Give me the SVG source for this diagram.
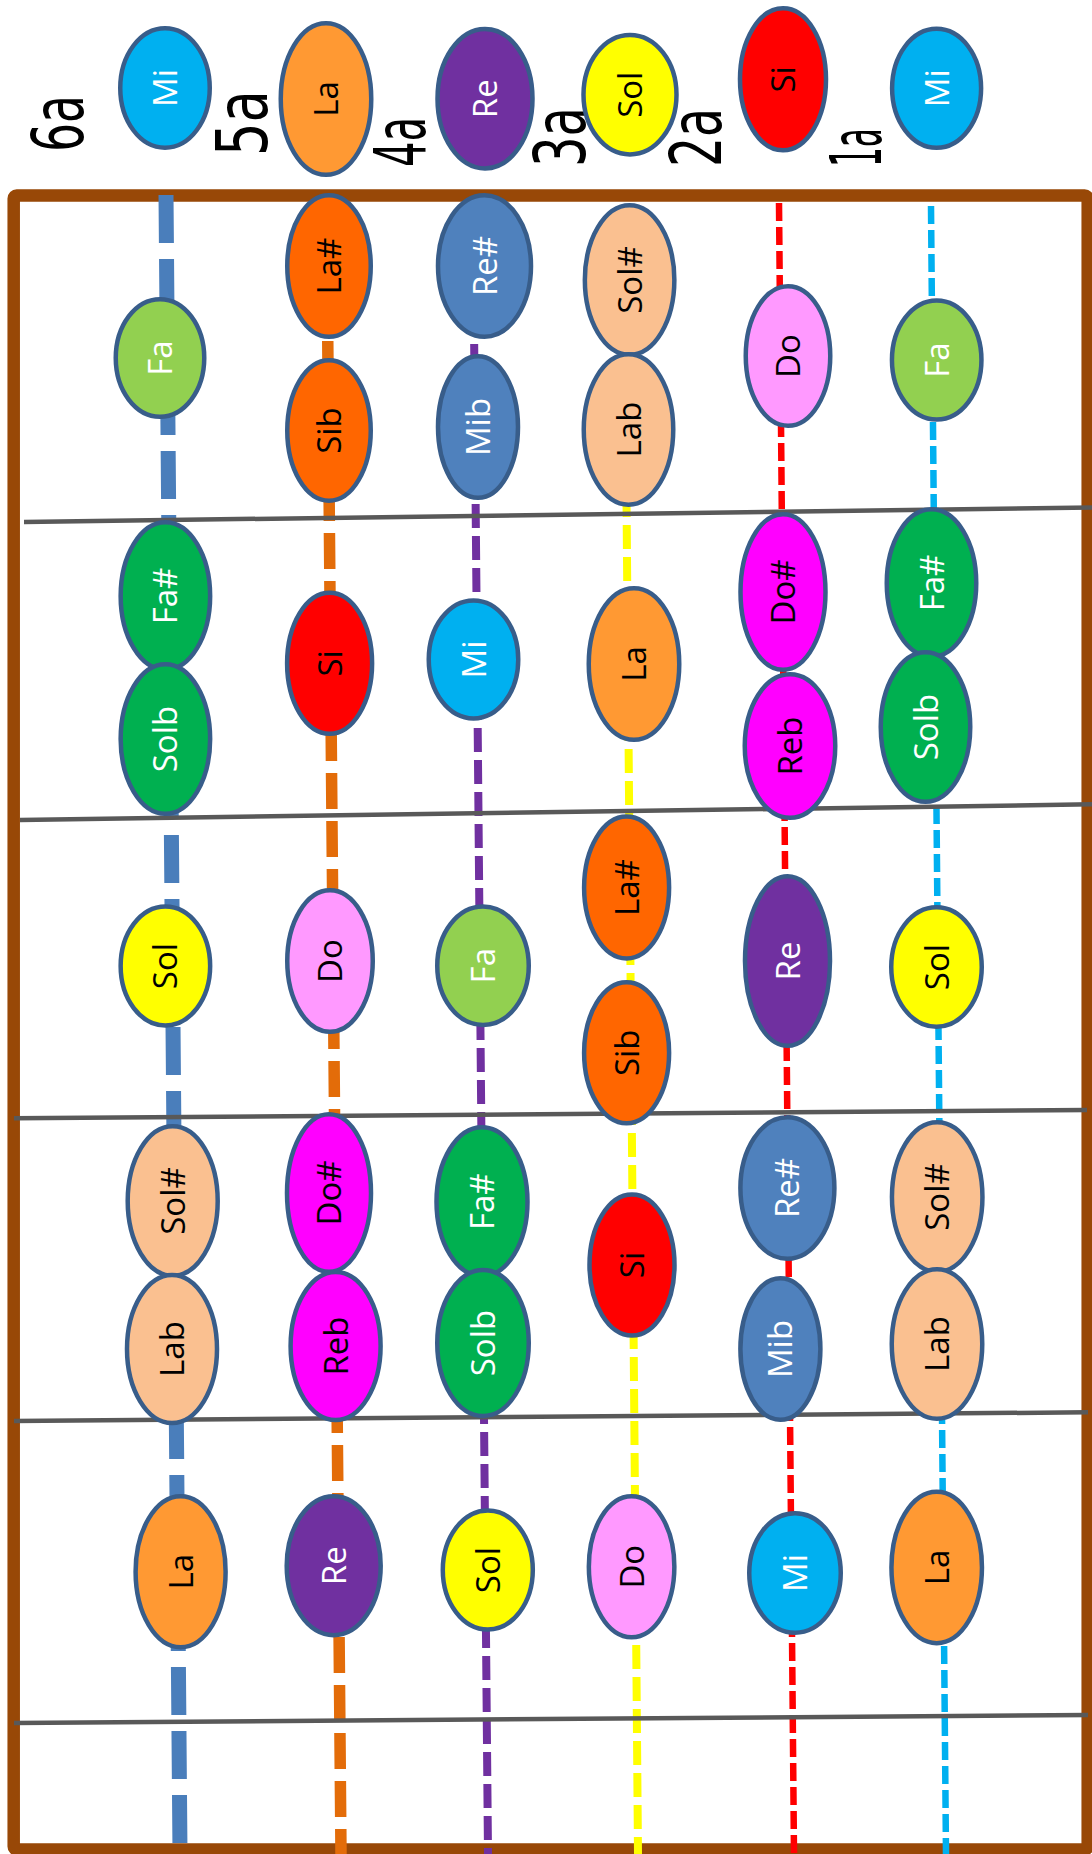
<svg xmlns="http://www.w3.org/2000/svg" width="1092" height="1854" viewBox="0 0 1092 1854">
<style>
.n ellipse{stroke:#385D8A;stroke-width:4.5}
.n text{font-family:'Open Sans','Noto Sans','DejaVu Sans',sans-serif;font-size:33px;text-anchor:middle;fill:#000}
.w text{fill:#fff}
.mi ellipse{fill:#00B0F0}
.la ellipse{fill:#FF9933}
.re ellipse{fill:#7030A0}
.sol ellipse{fill:#FFFF00}
.si ellipse{fill:#FF0000}
.fa ellipse{fill:#92D050}
.las ellipse{fill:#FF6600}
.res ellipse{fill:#4F81BD}
.sols ellipse{fill:#FAC090}
.do ellipse{fill:#FF99FF}
.dos ellipse{fill:#FF00FF}
.fas ellipse{fill:#00B050}
.lbl{font-family:'Liberation Sans Narrow','DejaVu Sans Condensed','Liberation Sans',sans-serif;font-size:72px;text-anchor:middle;fill:#000}
.fret{stroke:#595959;stroke-width:4.5;fill:none}
</style>
<rect width="1092" height="1854" fill="#fff"/>
<rect id="frame" x="13.7" y="195.5" width="1074" height="1654" rx="3" fill="none" stroke="#984807" stroke-width="12.5"/>
<g id="connectors">
<g id="strings" fill="none">
<line x1="166" y1="195" x2="180" y2="1854" stroke="#4A7EBB" stroke-width="15" stroke-dasharray="48 16"/>
<line x1="326.5" y1="197" x2="341" y2="1854" stroke="#E36C09" stroke-width="11.5" stroke-dasharray="36 12"/>
<line x1="473" y1="216" x2="488" y2="1854" stroke="#7030A0" stroke-width="8" stroke-dasharray="24 8"/>
<line x1="624" y1="205" x2="638" y2="1854" stroke="#FFFF00" stroke-width="8" stroke-dasharray="24 8"/>
<line x1="779" y1="203" x2="794" y2="1854" stroke="#FF0000" stroke-width="6.5" stroke-dasharray="18 6"/>
<line x1="931" y1="206" x2="946" y2="1854" stroke="#00B0F0" stroke-width="6.5" stroke-dasharray="18 6"/>
</g>
<g id="frets">
<line class="fret" x1="24" y1="522" x2="1092" y2="507.5"/>
<line class="fret" x1="20" y1="820" x2="1092" y2="804.3"/>
<line class="fret" x1="14" y1="1118.3" x2="1087" y2="1110"/>
<line class="fret" x1="14" y1="1421" x2="1088" y2="1412.3"/>
<line class="fret" x1="14" y1="1723" x2="1088" y2="1715"/>
</g>
</g>
<g id="labels">
<text class="lbl" transform="translate(83.3,123.5) rotate(-90)" textLength="57" lengthAdjust="spacingAndGlyphs">6a</text>
<text class="lbl" transform="translate(267,123) rotate(-90)" textLength="66" lengthAdjust="spacingAndGlyphs">5a</text>
<text class="lbl" transform="translate(425,142) rotate(-90)" textLength="50" lengthAdjust="spacingAndGlyphs">4a</text>
<text class="lbl" transform="translate(585,137) rotate(-90)" textLength="60" lengthAdjust="spacingAndGlyphs">3a</text>
<text class="lbl" transform="translate(721,137.5) rotate(-90)" textLength="59" lengthAdjust="spacingAndGlyphs">2a</text>
<text class="lbl" transform="translate(881,147.5) rotate(-90)" textLength="39" lengthAdjust="spacingAndGlyphs">1a</text>
</g>
<g id="open">
<g id="o6" class="n mi w"><ellipse cx="165" cy="88" rx="44.75" ry="59.75"/><text transform="translate(177,88) rotate(-90)">Mi</text></g>
<g id="o5" class="n la"><ellipse cx="326" cy="99" rx="45.25" ry="75.75"/><text transform="translate(338,99) rotate(-90)">La</text></g>
<g id="o4" class="n re w"><ellipse cx="485" cy="98.7" rx="47.5" ry="69.75"/><text transform="translate(497,98.7) rotate(-90)">Re</text></g>
<g id="o3" class="n sol"><ellipse cx="630" cy="94.7" rx="46.5" ry="59.75"/><text transform="translate(642,94.7) rotate(-90)">Sol</text></g>
<g id="o2" class="n si"><ellipse cx="783" cy="79.3" rx="43" ry="71"/><text transform="translate(795,79.3) rotate(-90)">Si</text></g>
<g id="o1" class="n mi w"><ellipse cx="936.6" cy="88.3" rx="44.5" ry="59.5"/><text transform="translate(948.6,88.3) rotate(-90)">Mi</text></g>
</g>
<g id="fret1notes">
<g id="f1s6" class="n fa w"><ellipse cx="160" cy="358" rx="44.25" ry="58.75"/><text transform="translate(172,358) rotate(-90)">Fa</text></g>
<g id="f1s5a" class="n las"><ellipse cx="329" cy="266" rx="41.75" ry="70.75"/><text transform="translate(341,266) rotate(-90)">La#</text></g>
<g id="f1s5b" class="n las"><ellipse cx="329" cy="430.5" rx="41.75" ry="70.25"/><text transform="translate(341,430.5) rotate(-90)">Sib</text></g>
<g id="f1s4a" class="n res w"><ellipse cx="484.5" cy="266" rx="46.5" ry="70.75"/><text transform="translate(496.5,266) rotate(-90)">Re#</text></g>
<g id="f1s4b" class="n res w"><ellipse cx="478" cy="427" rx="40" ry="70.75"/><text transform="translate(490,427) rotate(-90)">Mib</text></g>
<g id="f1s3a" class="n sols"><ellipse cx="629.6" cy="280" rx="44.75" ry="74.75"/><text transform="translate(641.6,280) rotate(-90)">Sol#</text></g>
<g id="f1s3b" class="n sols"><ellipse cx="628.5" cy="429.5" rx="44.75" ry="75.25"/><text transform="translate(640.5,429.5) rotate(-90)">Lab</text></g>
<g id="f1s2" class="n do"><ellipse cx="788" cy="356" rx="42.25" ry="69.75"/><text transform="translate(800,356) rotate(-90)">Do</text></g>
<g id="f1s1" class="n fa w"><ellipse cx="936.7" cy="360" rx="44.75" ry="59.5"/><text transform="translate(948.7,360) rotate(-90)">Fa</text></g>
</g>
<g id="fret2notes">
<g id="f2s6a" class="n fas w"><ellipse cx="165.4" cy="596" rx="44.75" ry="73.75"/><text transform="translate(177.4,596) rotate(-90)">Fa#</text></g>
<g id="f2s6b" class="n fas w"><ellipse cx="165.4" cy="739" rx="44.75" ry="74.75"/><text transform="translate(177.4,739) rotate(-90)">Solb</text></g>
<g id="f2s5" class="n si"><ellipse cx="329.6" cy="663.3" rx="42.5" ry="70.5"/><text transform="translate(341.6,663.3) rotate(-90)">Si</text></g>
<g id="f2s4" class="n mi w"><ellipse cx="473.5" cy="659.4" rx="44.75" ry="59"/><text transform="translate(485.5,659.4) rotate(-90)">Mi</text></g>
<g id="f2s3" class="n la"><ellipse cx="634" cy="664" rx="45.25" ry="75.75"/><text transform="translate(646,664) rotate(-90)">La</text></g>
<g id="f2s2a" class="n dos"><ellipse cx="783" cy="592" rx="42.5" ry="77.75"/><text transform="translate(795,592) rotate(-90)">Do#</text></g>
<g id="f2s2b" class="n dos"><ellipse cx="790" cy="746" rx="45.25" ry="71.75"/><text transform="translate(802,746) rotate(-90)">Reb</text></g>
<g id="f2s1a" class="n fas w"><ellipse cx="931.5" cy="583" rx="44.75" ry="73.75"/><text transform="translate(943.5,583) rotate(-90)">Fa#</text></g>
<g id="f2s1b" class="n fas w"><ellipse cx="925.5" cy="727" rx="44.75" ry="74.75"/><text transform="translate(937.5,727) rotate(-90)">Solb</text></g>
</g>
<g id="fret3notes">
<g id="f3s6" class="n sol"><ellipse cx="165.4" cy="966" rx="44.75" ry="59.5"/><text transform="translate(177.4,966) rotate(-90)">Sol</text></g>
<g id="f3s5" class="n do"><ellipse cx="330" cy="961" rx="42.75" ry="70.75"/><text transform="translate(342,961) rotate(-90)">Do</text></g>
<g id="f3s4" class="n fa w"><ellipse cx="483" cy="965.7" rx="45.75" ry="59.25"/><text transform="translate(495,965.7) rotate(-90)">Fa</text></g>
<g id="f3s3a" class="n las"><ellipse cx="626.6" cy="887.5" rx="42.5" ry="71"/><text transform="translate(638.6,887.5) rotate(-90)">La#</text></g>
<g id="f3s3b" class="n las"><ellipse cx="626.6" cy="1052.8" rx="42.5" ry="70.5"/><text transform="translate(638.6,1052.8) rotate(-90)">Sib</text></g>
<g id="f3s2" class="n re w"><ellipse cx="787.5" cy="961" rx="42.5" ry="84.75"/><text transform="translate(799.5,961) rotate(-90)">Re</text></g>
<g id="f3s1" class="n sol"><ellipse cx="936.5" cy="967" rx="45.25" ry="59.75"/><text transform="translate(948.5,967) rotate(-90)">Sol</text></g>
</g>
<g id="fret4notes">
<g id="f4s6a" class="n sols"><ellipse cx="172.7" cy="1201" rx="45" ry="74.75"/><text transform="translate(184.7,1201) rotate(-90)">Sol#</text></g>
<g id="f4s6b" class="n sols"><ellipse cx="172" cy="1349" rx="45" ry="74"/><text transform="translate(184,1349) rotate(-90)">Lab</text></g>
<g id="f4s5a" class="n dos"><ellipse cx="329" cy="1193" rx="42" ry="78.75"/><text transform="translate(341,1193) rotate(-90)">Do#</text></g>
<g id="f4s5b" class="n dos"><ellipse cx="335.6" cy="1346" rx="45" ry="74"/><text transform="translate(347.6,1346) rotate(-90)">Reb</text></g>
<g id="f4s4a" class="n fas w"><ellipse cx="482" cy="1201.7" rx="45.5" ry="74.5"/><text transform="translate(494,1201.7) rotate(-90)">Fa#</text></g>
<g id="f4s4b" class="n fas w"><ellipse cx="483" cy="1343" rx="45.75" ry="73"/><text transform="translate(495,1343) rotate(-90)">Solb</text></g>
<g id="f4s3" class="n si"><ellipse cx="632" cy="1265" rx="42.5" ry="70.5"/><text transform="translate(644,1265) rotate(-90)">Si</text></g>
<g id="f4s2a" class="n res w"><ellipse cx="787.4" cy="1188" rx="47" ry="70.75"/><text transform="translate(799.4,1188) rotate(-90)">Re#</text></g>
<g id="f4s2b" class="n res w"><ellipse cx="780.4" cy="1349" rx="40" ry="70.75"/><text transform="translate(792.4,1349) rotate(-90)">Mib</text></g>
<g id="f4s1a" class="n sols"><ellipse cx="937.2" cy="1197" rx="45.25" ry="74.75"/><text transform="translate(949.2,1197) rotate(-90)">Sol#</text></g>
<g id="f4s1b" class="n sols"><ellipse cx="937" cy="1344" rx="45.25" ry="74.75"/><text transform="translate(949,1344) rotate(-90)">Lab</text></g>
</g>
<g id="fret5notes">
<g id="f5s6" class="n la"><ellipse cx="180.6" cy="1571.7" rx="45" ry="75.5"/><text transform="translate(192.6,1571.7) rotate(-90)">La</text></g>
<g id="f5s5" class="n re w"><ellipse cx="333.7" cy="1565.7" rx="47" ry="69.5"/><text transform="translate(345.7,1565.7) rotate(-90)">Re</text></g>
<g id="f5s4" class="n sol"><ellipse cx="487.8" cy="1570" rx="45" ry="59.5"/><text transform="translate(499.8,1570) rotate(-90)">Sol</text></g>
<g id="f5s3" class="n do"><ellipse cx="631.6" cy="1566.7" rx="42.75" ry="70.5"/><text transform="translate(643.6,1566.7) rotate(-90)">Do</text></g>
<g id="f5s2" class="n mi w"><ellipse cx="795" cy="1573" rx="45.75" ry="59.75"/><text transform="translate(807,1573) rotate(-90)">Mi</text></g>
<g id="f5s1" class="n la"><ellipse cx="936.7" cy="1567.4" rx="45.25" ry="75.75"/><text transform="translate(948.7,1567.4) rotate(-90)">La</text></g>
</g>
</svg>
